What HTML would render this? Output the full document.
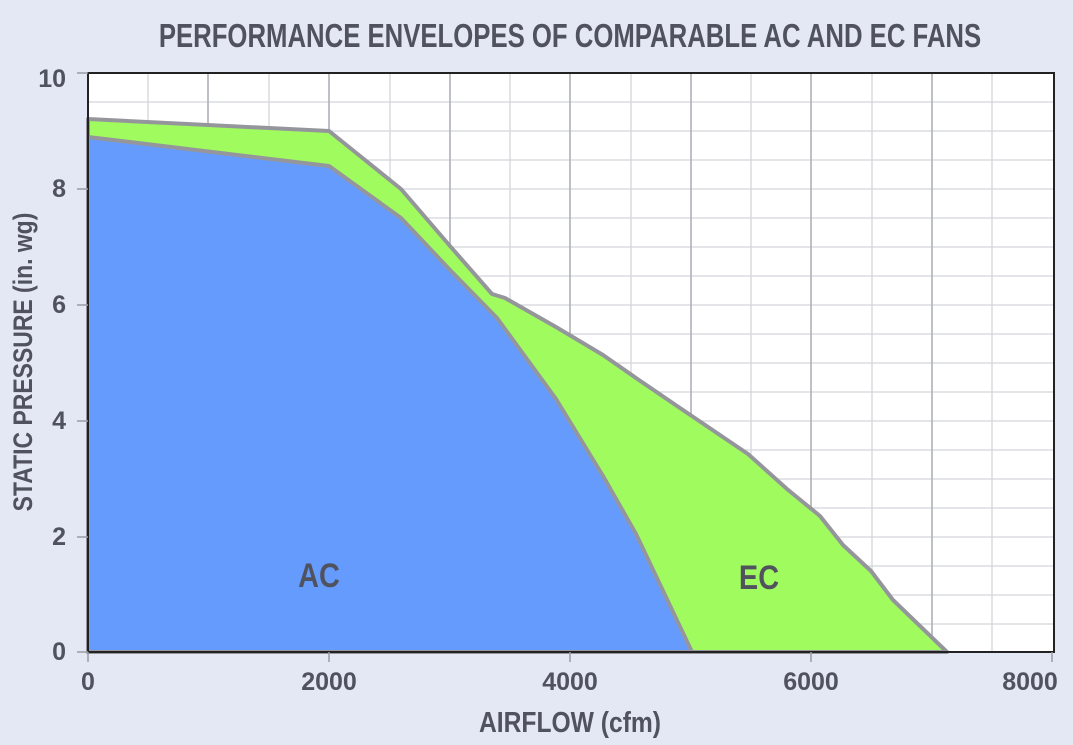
<!DOCTYPE html>
<html><head><style>
body{margin:0;background:#e4e7f4;}
svg text{font-family:"Liberation Sans",sans-serif;font-weight:bold;fill:#50535e;}
</style></head><body>
<svg width="1073" height="740" xmlns="http://www.w3.org/2000/svg">
<rect width="1073" height="740" fill="#e4e7f4"/>
<rect x="88" y="73" width="966" height="579" fill="#fff"/>
<g stroke="#d4d5dc" stroke-width="1.3">
<line x1="148" y1="73" x2="148" y2="652"/><line x1="269" y1="73" x2="269" y2="652"/><line x1="390" y1="73" x2="390" y2="652"/><line x1="510" y1="73" x2="510" y2="652"/><line x1="631" y1="73" x2="631" y2="652"/><line x1="751" y1="73" x2="751" y2="652"/><line x1="872" y1="73" x2="872" y2="652"/><line x1="992" y1="73" x2="992" y2="652"/>
<line x1="88" y1="102" x2="1054" y2="102"/><line x1="88" y1="131" x2="1054" y2="131"/><line x1="88" y1="160" x2="1054" y2="160"/><line x1="88" y1="189" x2="1054" y2="189"/><line x1="88" y1="218" x2="1054" y2="218"/><line x1="88" y1="247" x2="1054" y2="247"/><line x1="88" y1="276" x2="1054" y2="276"/><line x1="88" y1="305" x2="1054" y2="305"/><line x1="88" y1="334" x2="1054" y2="334"/><line x1="88" y1="363" x2="1054" y2="363"/><line x1="88" y1="392" x2="1054" y2="392"/><line x1="88" y1="421" x2="1054" y2="421"/><line x1="88" y1="450" x2="1054" y2="450"/><line x1="88" y1="479" x2="1054" y2="479"/><line x1="88" y1="508" x2="1054" y2="508"/><line x1="88" y1="537" x2="1054" y2="537"/><line x1="88" y1="566" x2="1054" y2="566"/><line x1="88" y1="595" x2="1054" y2="595"/><line x1="88" y1="624" x2="1054" y2="624"/>
</g>
<g stroke="#aeb0b8" stroke-width="1.6">
<line x1="208" y1="73" x2="208" y2="652"/><line x1="329" y1="73" x2="329" y2="652"/><line x1="450" y1="73" x2="450" y2="652"/><line x1="570" y1="73" x2="570" y2="652"/><line x1="691" y1="73" x2="691" y2="652"/><line x1="811" y1="73" x2="811" y2="652"/><line x1="932" y1="73" x2="932" y2="652"/>
</g>
<polygon points="88,119 329,131 401,189 450,246 492,294 505,298 556,327 603,355 636,378 680,408 748,454 787,489 820,516 843,545 871,571 893,600 947,652 88,652" fill="#a0fb5e" stroke="#94969c" stroke-width="4" stroke-linejoin="round"/>
<polygon points="88,137 329,166 401,218 450,270 497,318 556,399 603,476 636,534 692,652 88,652" fill="#659bfd" stroke="#94969c" stroke-width="4" stroke-linejoin="round"/>
<rect x="88" y="73" width="966" height="579" fill="none" stroke="#222" stroke-width="2"/>
<g stroke="#9a9ca4" stroke-width="1.5">
<line x1="77" y1="73" x2="88" y2="73"/><line x1="77" y1="189" x2="88" y2="189"/><line x1="77" y1="305" x2="88" y2="305"/><line x1="77" y1="421" x2="88" y2="421"/><line x1="77" y1="537" x2="88" y2="537"/><line x1="77" y1="652" x2="88" y2="652"/>
<line x1="88" y1="652" x2="88" y2="662"/><line x1="329" y1="652" x2="329" y2="662"/><line x1="570" y1="652" x2="570" y2="662"/><line x1="811" y1="652" x2="811" y2="662"/><line x1="1052" y1="652" x2="1052" y2="662"/>
</g>
<g font-size="25" text-anchor="end">
<text x="66" y="87">10</text><text x="66" y="197">8</text><text x="66" y="313">6</text><text x="66" y="429">4</text><text x="66" y="545">2</text><text x="66" y="660">0</text>
</g>
<g font-size="25" text-anchor="middle">
<text x="88" y="690">0</text><text x="329" y="690">2000</text><text x="570" y="690">4000</text><text x="811" y="690">6000</text><text x="1030" y="690">8000</text>
</g>
<text x="570" y="732" font-size="29" text-anchor="middle" transform="translate(570 0) scale(0.85 1) translate(-570 0)">AIRFLOW (cfm)</text>
<text x="0" y="0" font-size="27" text-anchor="middle" transform="translate(32 362) rotate(-90) scale(0.85 1)">STATIC PRESSURE (in. wg)</text>
<text x="570" y="47" font-size="33" text-anchor="middle" transform="translate(570 0) scale(0.78 1) translate(-570 0)">PERFORMANCE ENVELOPES OF COMPARABLE AC AND EC FANS</text>
<text x="319" y="587" font-size="34" text-anchor="middle" transform="translate(319 0) scale(0.85 1) translate(-319 0)">AC</text>
<text x="759" y="589" font-size="34" text-anchor="middle" transform="translate(759 0) scale(0.85 1) translate(-759 0)">EC</text>
</svg>
</body></html>
